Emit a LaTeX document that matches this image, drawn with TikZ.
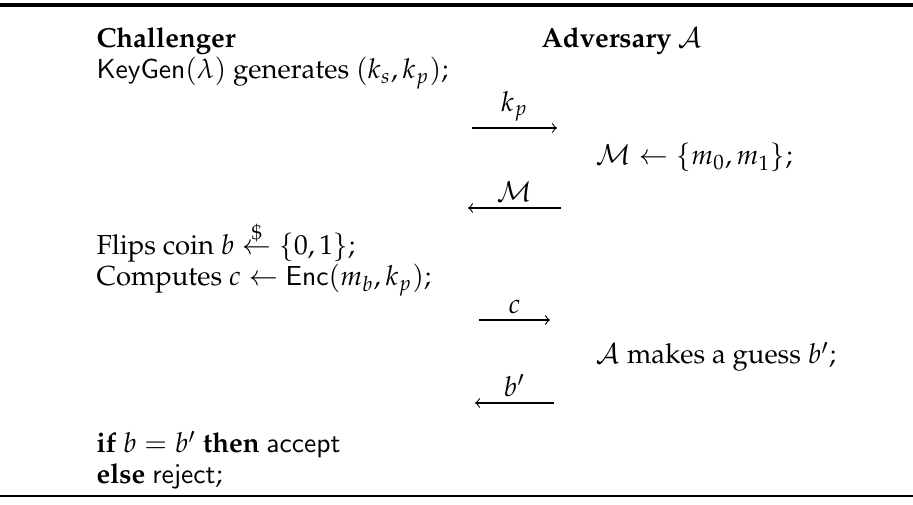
\documentclass[tikz,border=0pt]{standalone}
\usepackage[T1]{fontenc}
\usepackage{mathpazo}
\usepackage{amsmath}
\usepackage{tikz}

\begin{document}
\begin{tikzpicture}[x=0.3636pt, y=-0.3636pt, >=to,
		row/.style={anchor=base west, inner sep=0pt},
		msg/.style={above, inner sep=2.2pt}]

		% Rules
		\useasboundingbox (0,0) rectangle (913,505);
		\draw[line width=1.6pt] (0,5) -- (913,5);
		\draw[line width=0.7pt] (0,496) -- (913,496);

		% Column 1: Challenger
		\node[row] (C0) at (96,48) {\textbf{Challenger}};
		\node[row] (C1) at (96,79) {$\mathsf{KeyGen}(\lambda)$ generates $(k_s,k_p)$;};
		\node[row] (C2) at (96,255) {Flips coin $b \overset{\$}{\leftarrow} \{0,1\}$;};
		\node[row] (C3) at (96,286) {Computes $c \leftarrow \mathsf{Enc}(m_b,k_p)$;};
		\node[row] (C4) at (96,453) {\textbf{if} $b = b'$ \textbf{then} $\mathsf{accept}$};
		\node[row] (C5) at (96,484) {\textbf{else} $\mathsf{reject}$;};

		% Column 3: Adversary
		\node[row] (A0) at (541,48) {\textbf{Adversary} $\mathcal{A}$};
		\node[row] (A1) at (596,165) {$\mathcal{M} \leftarrow \{m_0,m_1\}$;};
		\node[row] (A2) at (596,364) {$\mathcal{A}$ makes a guess $b'$;};

		% Column 2: Messages
		\coordinate (K0) at (472,128);
		\coordinate (K1) at (557,128);
		\coordinate (M0) at (468,208);
		\coordinate (M1) at (561,208);
		\coordinate (E0) at (479,320);
		\coordinate (E1) at (550,320);
		\coordinate (G0) at (475,403);
		\coordinate (G1) at (554,403);

		\draw[->] (K0) -- node[msg] (KL) {$k_p$} (K1);
		\draw[<-] (M0) -- node[msg] (ML) {$\mathcal{M}$} (M1);
		\draw[->] (E0) -- node[msg] (EL) {$c$} (E1);
		\draw[<-] (G0) -- node[msg] (GL) {$b'$} (G1);

	\end{tikzpicture}
\end{document}
